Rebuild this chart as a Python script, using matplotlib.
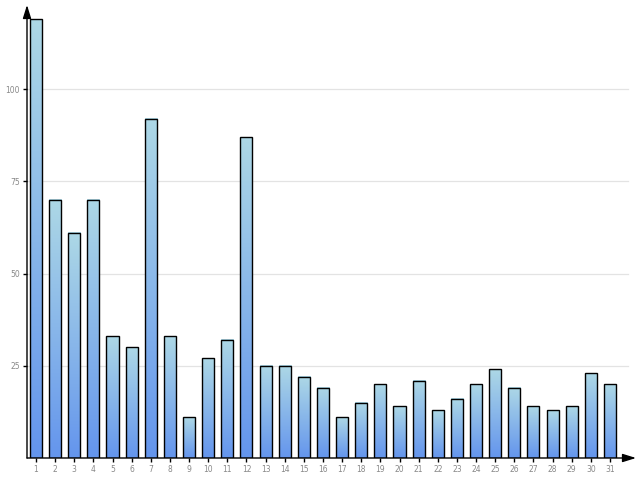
import matplotlib
matplotlib.use("Agg")
import matplotlib.pyplot as plt
import numpy as np
from matplotlib.colors import LinearSegmentedColormap

days = [str(i) for i in range(1, 32)]
values = [119, 70, 61, 70, 33, 30, 92, 33, 11, 27, 32, 87, 25, 25, 22, 19,
          11, 15, 20, 14, 21, 13, 16, 20, 24, 19, 14, 13, 14, 23, 20]
yticks = [25, 50, 75, 100]

fig = plt.figure(figsize=(6.4, 4.8), dpi=100)
ax = fig.add_axes([27/640, 22/480, 609/640, 453/480])

x = np.arange(1, len(values) + 1)
width = 0.63
cmap = LinearSegmentedColormap.from_list("g", ["#6495ed", "#add8e6"])
grad = np.linspace(0, 1, 256).reshape(-1, 1)

xmin, xmax = 0.53, 32.36
ymin, ymax = 0, 122.8

for xi, v in zip(x, values):
    ax.imshow(grad, cmap=cmap, origin="lower", aspect="auto",
              extent=[xi - width/2, xi + width/2, 0, v], zorder=2)
ax.bar(x, values, width=width, fill=False, edgecolor="black", linewidth=1.0, zorder=3)

ax.set_xlim(xmin, xmax)
ax.set_ylim(ymin, ymax)

for t in yticks:
    ax.plot([xmin, 31.95], [t, t], color="#e3e3e3", linewidth=0.9, zorder=1)

for s in ax.spines.values():
    s.set_visible(False)

ax.annotate("", xy=(0, 1), xytext=(0, 0), xycoords="axes fraction",
            arrowprops=dict(arrowstyle="-|>,head_length=0.8,head_width=0.25", color="black",
                            linewidth=1.0, shrinkA=0, shrinkB=0), zorder=4)
ax.annotate("", xy=(1, 0), xytext=(0, 0), xycoords="axes fraction",
            arrowprops=dict(arrowstyle="-|>,head_length=0.8,head_width=0.25", color="black",
                            linewidth=1.0, shrinkA=0, shrinkB=0), zorder=4)

ax.set_xticks(x)
ax.set_xticklabels(days)
ax.set_yticks(yticks)
ax.set_yticklabels([str(t) for t in yticks])
ax.tick_params(axis="both", labelsize=5.5, labelcolor="#888888", color="black",
               length=3, width=1, pad=2)

fig.savefig("out.png", dpi=100)
